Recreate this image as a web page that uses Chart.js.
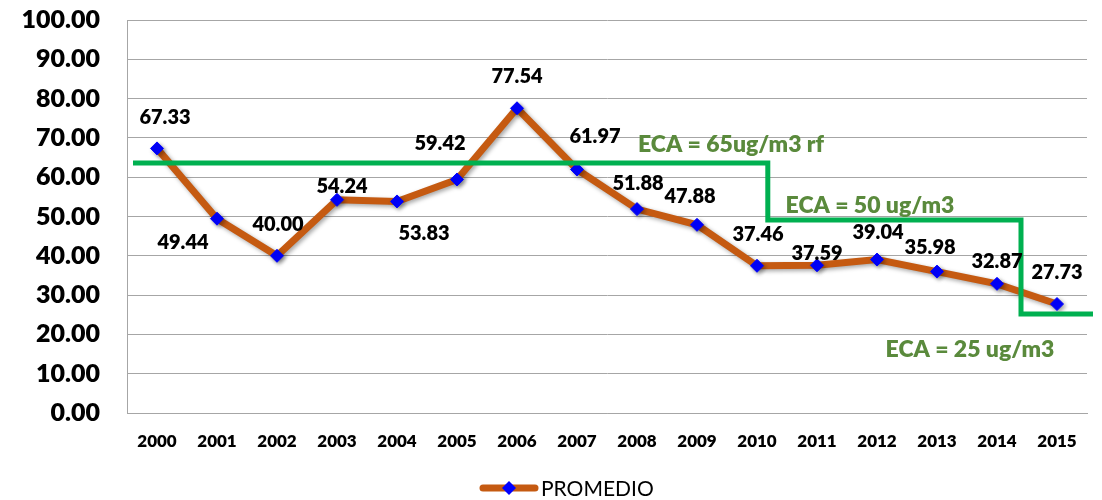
<!DOCTYPE html>
<html>
<head>
<meta charset="utf-8">
<script src="https://cdn.jsdelivr.net/npm/chart.js@4"></script>
<style>
  html, body { margin: 0; padding: 0; background: #fff; }
  #wrap { width: 1102px; height: 500px; }
</style>
</head>
<body>
<div id="wrap"><canvas id="c" width="1102" height="500"></canvas></div>
<script>
// Data
const years = ['2000','2001','2002','2003','2004','2005','2006','2007','2008','2009','2010','2011','2012','2013','2014','2015'];
const promedio = [67.33, 49.44, 40.00, 54.24, 53.83, 59.42, 77.54, 61.97, 51.88, 47.88, 37.46, 37.59, 39.04, 35.98, 32.87, 27.73];
const yTicks = [0, 10, 20, 30, 40, 50, 60, 70, 80, 90, 100];
// ECA reference levels (as drawn) and where each step starts/ends on the year index scale
const ecaLevels = [63.6, 49.1, 25.2];
const ecaBreaks = [-0.4, 10.18, 14.4, 15.6];
const ecaLabels = ['ECA = 65ug/m3 rf', 'ECA = 50 ug/m3', 'ECA = 25 ug/m3'];

// label offsets (px) relative to each point, like Excel placed them
const labelOffsets = [[8,-31],[-34,24],[1,-31],[5,-13],[27,32],[-17,-36],[0,-32],[18,-33],
                      [1,-26],[-7,-28],[1,-31],[0,-12],[1,-27],[-7,-24],[0,-22],[0,-31]];
// where the ECA texts sit
const ecaTextPos = [[731,145],[870,206],[970,350]];

const FONT = 'Lato, "Liberation Sans", sans-serif';
const ORANGE = '#C55A11';
const GREEN = '#00B050';
const GREEN_TXT = '#5A8A3C';

// build step points
const ecaPoints = [];
ecaLevels.forEach((lvl, i) => {
    ecaPoints.push({ x: ecaBreaks[i], y: lvl });
    ecaPoints.push({ x: ecaBreaks[i + 1], y: lvl });
});

// Shadow under the PROMEDIO line
const shadowPlugin = {
    id: 'shadow',
    beforeDatasetDraw(chart, args) {
        if (args.index !== 1) return;
        const ctx = chart.ctx;
        ctx.save();
        ctx.shadowColor = 'rgba(0,0,0,0.35)';
        ctx.shadowBlur = 4;
        ctx.shadowOffsetX = 2;
        ctx.shadowOffsetY = 2;
    },
    afterDatasetDraw(chart, args) {
        if (args.index !== 1) return;
        chart.ctx.restore();
    }
};

// Data labels + ECA texts + legend
const labelsPlugin = {
    id: 'labels',
    afterDraw(chart) {
        const ctx = chart.ctx;
        const meta = chart.getDatasetMeta(1);
        ctx.save();
        ctx.textAlign = 'center';
        ctx.textBaseline = 'middle';
        ctx.font = '800 20px ' + FONT;
        ctx.fillStyle = '#000';
        meta.data.forEach((pt, i) => {
            const off = labelOffsets[i];
            ctx.fillText(promedio[i].toFixed(2), pt.x + off[0], pt.y + off[1]);
        });

        ctx.fillStyle = GREEN_TXT;
        ctx.font = '800 23px ' + FONT;
        ecaLabels.forEach((t, i) => {
            ctx.fillText(t, ecaTextPos[i][0], ecaTextPos[i][1]);
        });

        // legend
        const ly = 488;
        ctx.strokeStyle = ORANGE;
        ctx.lineWidth = 7;
        ctx.lineCap = 'round';
        ctx.beginPath();
        ctx.moveTo(483, ly);
        ctx.lineTo(535, ly);
        ctx.stroke();
        ctx.fillStyle = '#0000FF';
        ctx.beginPath();
        ctx.moveTo(509, ly - 7);
        ctx.lineTo(516, ly);
        ctx.lineTo(509, ly + 7);
        ctx.lineTo(502, ly);
        ctx.closePath();
        ctx.fill();
        ctx.fillStyle = '#000';
        ctx.textAlign = 'left';
        ctx.font = '21px ' + FONT;
        ctx.fillText(chart.data.datasets[1].label, 541, ly + 1);
        ctx.restore();
    }
};

new Chart(document.getElementById('c'), {
    type: 'line',
    data: {
        labels: years,
        datasets: [
            {
                label: 'ECA',
                data: ecaPoints,
                xAxisID: 'x2',
                borderColor: GREEN,
                borderWidth: 5,
                pointRadius: 0,
                tension: 0,
                clip: false
            },
            {
                label: 'PROMEDIO',
                data: promedio,
                xAxisID: 'x',
                borderColor: ORANGE,
                borderWidth: 7,
                pointStyle: 'rectRot',
                pointRadius: 6.5,
                pointBackgroundColor: '#0000FF',
                pointBorderColor: '#0000FF',
                pointBorderWidth: 1,
                tension: 0
            }
        ]
    },
    options: {
        responsive: false,
        animation: false,
        events: [],
        layout: { padding: { top: 20, right: 15, bottom: 47, left: 0 } },
        plugins: { legend: { display: false }, tooltip: { enabled: false } },
        scales: {
            x: {
                type: 'category',
                offset: true,
                grid: { display: false, drawTicks: false },
                border: { display: true, color: '#A6A6A6', width: 1 },
                ticks: {
                    color: '#000',
                    font: { family: FONT, size: 17, weight: 800 },
                    padding: 18,
                    maxRotation: 0,
                    autoSkip: false
                },
                afterFit(scale) { scale.height = 40; }
            },
            x2: {
                type: 'linear',
                display: false,
                min: -0.5,
                max: years.length - 0.5
            },
            y: {
                min: 0,
                max: 100,
                afterBuildTicks(scale) { scale.ticks = yTicks.map(v => ({ value: v })); },
                grid: { color: '#A6A6A6', lineWidth: 1, drawTicks: false },
                border: { display: true, color: '#A6A6A6', width: 1 },
                ticks: {
                    color: '#000',
                    font: { family: FONT, size: 25, weight: 800 },
                    padding: 27,
                    callback: v => Number(v).toFixed(2)
                },
                afterFit(scale) {
                    scale.width = 127;
                    scale.paddingTop = 0;
                    scale.paddingBottom = 0;
                }
            }
        }
    },
    plugins: [shadowPlugin, labelsPlugin]
});
</script>
</body>
</html>
